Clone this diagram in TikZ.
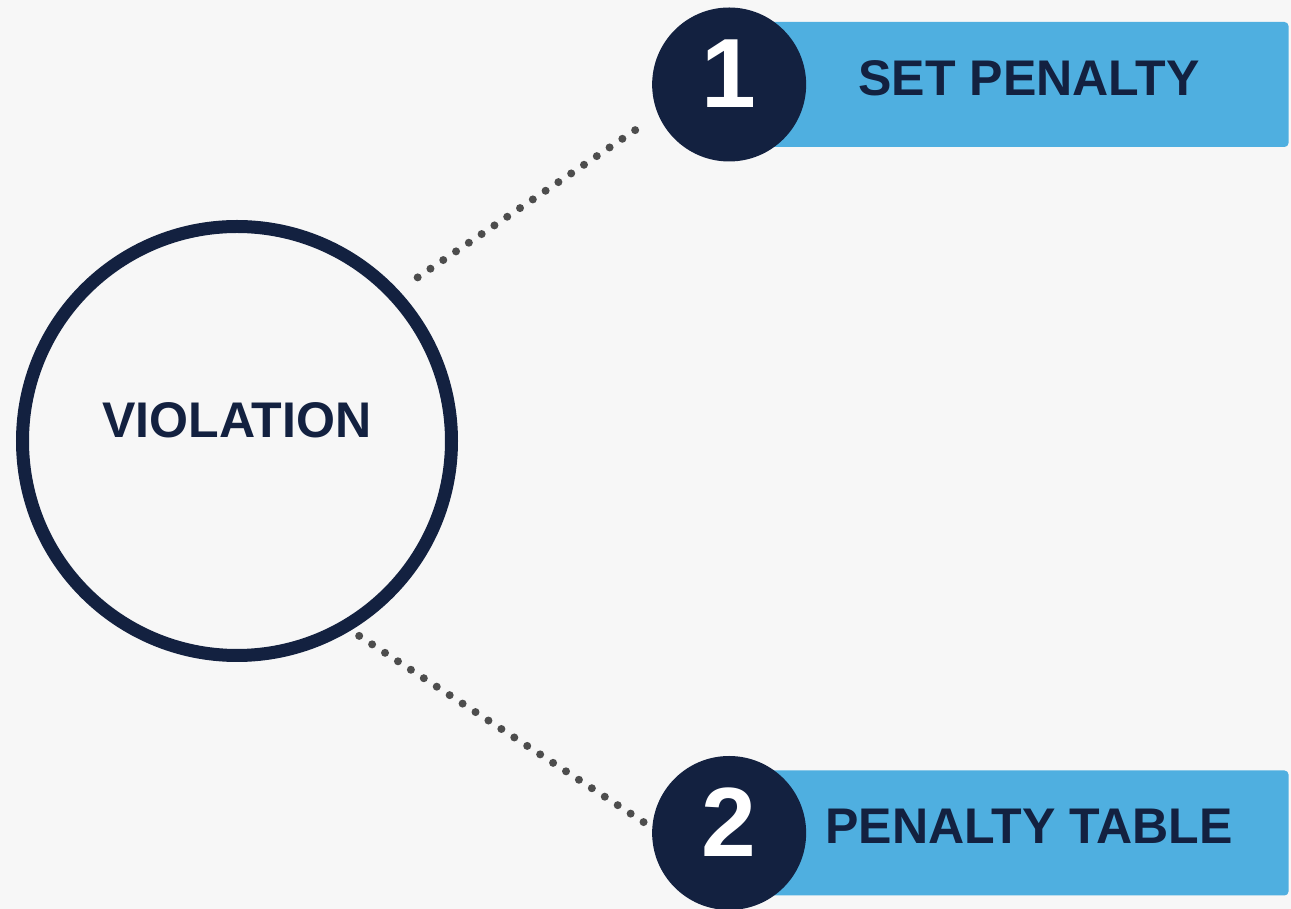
\documentclass[tikz,border=0pt]{standalone}
\usepackage{fontspec}
\setmainfont{Liberation Sans}
\usetikzlibrary{positioning}

\definecolor{navy}{RGB}{19,33,64}
\definecolor{skyblue}{RGB}{79,175,224}
\definecolor{paper}{RGB}{247,247,247}
\definecolor{dotgray}{RGB}{77,77,77}

\begin{document}
\begin{tikzpicture}[
  stepbox/.style={rectangle,fill=skyblue,rounded corners=0.08cm,minimum width=10.38cm,
    minimum height=2.5cm,text=navy,text depth=0.26cm,font=\fontsize{28.5}{28.5}\selectfont\bfseries},
  numdisc/.style={circle,fill=navy,minimum size=3.08cm,inner sep=0pt,text=white,
    text depth=0.45cm,font=\fontsize{56}{56}\selectfont\bfseries},
  dotline/.style={dotgray,line width=0.16cm,line cap=round,dash pattern=on 0pt off 0.309cm}
]
  \fill[paper] (0,0) rectangle (25.82,18.18);
  \useasboundingbox (0,0) rectangle (25.82,18.18);

  \node[circle,draw=navy,line width=0.26cm,minimum size=8.58cm,text=navy,text depth=0.84cm,
    font=\fontsize{28.5}{28.5}\selectfont\bfseries] (viol) at (4.74,9.36) {VIOLATION};

  \node[stepbox] (setpen) at (20.58,16.49) {SET PENALTY};
  \node[numdisc] (n1) at ([xshift=-0.8cm]setpen.west) {1};

  \node[stepbox] (pentab) at (20.58,1.52) {PENALTY TABLE};
  \node[numdisc] (n2) at ([xshift=-0.8cm]pentab.west) {2};

  \draw[dotline,shorten <=0.46cm,shorten >=0.4cm] (viol.43) -- (n1.203);
  \draw[dotline,shorten <=0.2cm,shorten >=0.18cm] (viol.-59) -- (n2.176);

\end{tikzpicture}
\end{document}
